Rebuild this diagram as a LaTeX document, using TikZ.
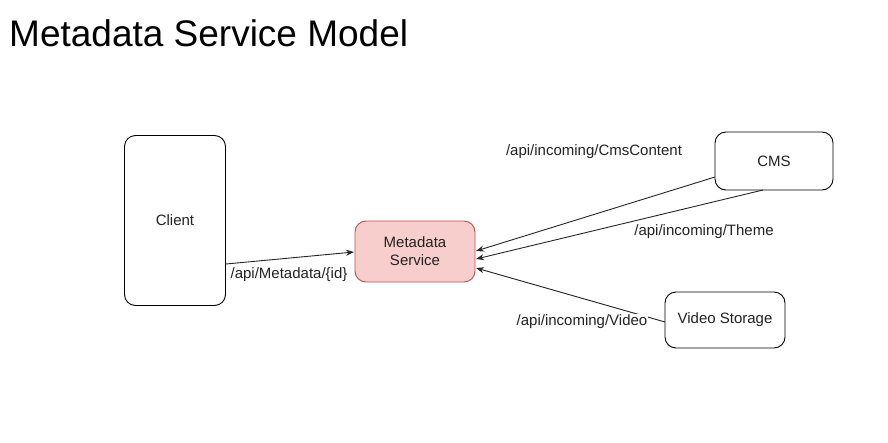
\documentclass[tikz,border=0pt]{standalone}
\usepackage{fontspec}
\setmainfont{Liberation Sans}
\usetikzlibrary{arrows.meta}
\definecolor{txt}{HTML}{222222}
\definecolor{pinkfill}{HTML}{F8CECC}
\definecolor{pinkdraw}{HTML}{B85450}
\tikzset{
  box/.style={draw=black, line width=0.9pt, rounded corners=11pt, fill=white, inner sep=0pt, font=\fontsize{15}{18}\selectfont, text=txt, align=center},
  svc/.style={box, draw=pinkdraw, fill=pinkfill},
  conn/.style={draw=black!85, line width=0.9pt, -{Stealth[length=8pt,width=6pt]}},
  lbl/.style={font=\fontsize{15}{18}\selectfont, text=txt, inner sep=1pt},
}
\begin{document}
\begin{tikzpicture}[x=1pt,y=-1pt]
\useasboundingbox (0,0) rectangle (888,442);
\node[anchor=base west, font=\fontsize{37}{40}\selectfont, inner sep=0pt] (title) at (9,46.7) {Metadata Service Model};
\node[box, minimum width=101pt, minimum height=170pt] (client) at (175,220.5) {Client};
\node[svc, minimum width=120pt, minimum height=61pt] (meta) at (415,251.5) {Metadata\\Service};
\node[box, minimum width=118pt, minimum height=58pt] (cms) at (774,161) {CMS};
\node[box, minimum width=120pt, minimum height=56pt] (video) at (725,320) {Video Storage};
\coordinate (c1) at (226,264);
\coordinate (m1) at (354,252);
\coordinate (cmsA) at (715,177);
\coordinate (cmsB) at (763,190);
\coordinate (mA) at (476,251);
\coordinate (mB) at (476,259);
\coordinate (mC) at (476,268);
\coordinate (v1) at (665,322);
\draw[conn] (c1) -- (m1);
\draw[conn] (cmsA) -- (mA);
\draw[conn] (cmsB) -- (mB);
\draw[conn] (v1) -- (mC);
\node[lbl] (l1) at (289,275) {/api/Metadata/\{id\}};
\node[lbl] (l2) at (594,152) {/api/incoming/CmsContent};
\node[lbl] (l3) at (704,232) {/api/incoming/Theme};
\node[lbl, fill=white] (l4) at (582,322) {/api/incoming/Video};
\end{tikzpicture}
\end{document}
